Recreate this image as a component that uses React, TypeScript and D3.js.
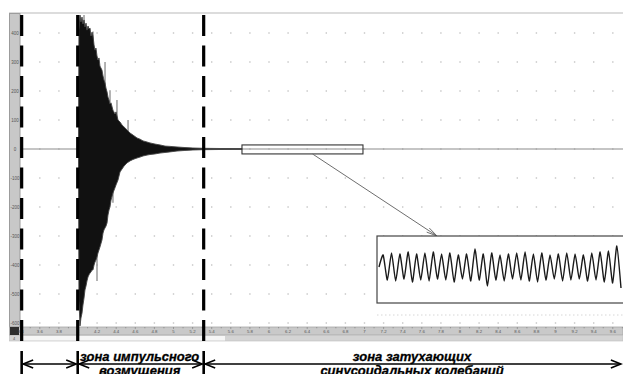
import React from 'react';
import * as d3 from 'd3';

const yTicks = [400, 300, 200, 100, 0, -100, -200, -300, -400, -500, -600];
const xTicks = [3.4, 3.6, 3.8, 4, 4.2, 4.4, 4.6, 4.8, 5, 5.2, 5.4, 5.6, 5.8, 6, 6.2, 6.4, 6.6, 6.8, 7, 7.2, 7.4, 7.6, 7.8, 8, 8.2, 8.4, 8.6, 8.8, 9, 9.2, 9.4, 9.6];
const markerTimes = [3.41, 3.997, 5.316];
const endTime = 9.7;

const zoneText = [
  [] as string[],
  ['зона импульсного', 'возмущения'],
  ['зона затухающих', 'синусоидальных колебаний'],
];

const sigTime = [4.005, 4.010, 4.021, 4.031, 4.042, 4.052, 4.063, 4.073, 4.084, 4.094, 4.105, 4.115, 4.126, 4.136, 4.147, 4.157, 4.168, 4.178, 4.188, 4.199, 4.209, 4.220, 4.230, 4.251, 4.262, 4.272, 4.283, 4.293, 4.304, 4.314, 4.325, 4.335, 4.346, 4.366, 4.387, 4.398, 4.419, 4.440, 4.461, 4.482, 4.513, 4.545, 4.576, 4.618, 4.649, 4.681, 4.723, 4.754, 4.806, 4.859, 4.911, 4.963, 5.037, 5.120, 5.204, 5.309, 5.487, 5.717];
const sigUpper = [0, 410, 462, 438, 455, 431, 445, 421, 434, 410, 424, 414, 417, 390, 403, 390, 359, 341, 348, 321, 307, 314, 286, 272, 252, 238, 228, 210, 197, 179, 169, 155, 159, 134, 121, 128, 100, 93, 83, 76, 66, 55, 48, 38, 34, 28, 24, 21, 17, 14, 10, 9, 7, 5, 3.4, 2.4, 1.7, 1.4];
const sigLower = [0, -521, -610, -583, -566, -538, -514, -486, -472, -455, -441, -434, -428, -424, -417, -417, -400, -390, -383, -372, -359, -348, -338, -314, -290, -279, -272, -266, -255, -228, -210, -200, -176, -152, -134, -124, -107, -79, -69, -59, -48, -41, -36, -31, -28, -24, -21, -19, -17, -14, -12, -10, -7, -5, -3.4, -2.4, -1.7, -1.4];

const spikeTime = [4.063, 4.157, 4.283, 4.335, 4.408, 4.524, 4.199, 4.366];
const spikeValue = [462, 405, 300, 203, 169, 100, -455, -185];

// zoomed window of the damped-sine zone
const windowTime = [5.717, 6.984];
const windowValue = [-17, 14];
const insetPeaks = [12, 14, 13, 15, 13, 14, 15, 13, 14, 12, 13, 18, 13, 14, 12, 13, 14, 15, 13, 14, 12, 13, 14, 13, 12, 14, 15, 16, 21];
const insetTroughs = [-13, -14, -12, -15, -13, -14, -12, -13, -15, -12, -14, -13, -19, -13, -14, -12, -13, -14, -15, -13, -12, -14, -13, -12, -14, -13, -15, -16, -21];

const W = 623;
const H = 374;
const FONT = '"Liberation Sans", Arial, sans-serif';

export default function App() {
  const x = d3.scaleLinear().domain([4, 9]).range([78, 555.5]);
  const y = d3.scaleLinear().domain([0, 400]).range([149, 33]);
  const plotTop = 14;
  const plotBottom = 327;
  const plotLeft = 20;

  const sigData = sigTime.map((t, i) => ({ t, hi: sigUpper[i], lo: sigLower[i] }));
  const area = d3.area<{ t: number; hi: number; lo: number }>()
    .x(d => x(d.t))
    .y0(d => y(d.lo))
    .y1(d => y(d.hi));

  const insetX0 = 377, insetY0 = 236, insetY1 = 303;
  const insetVals: number[] = [0];
  insetPeaks.forEach((p, i) => { insetVals.push(p); insetVals.push(insetTroughs[i]); });
  const ix = d3.scaleLinear().domain([0, insetVals.length - 1]).range([379, 621]);
  const iy = d3.scaleLinear().domain([-16, 16]).range([283, 251]);
  const insetPath = d3.line<number>()
    .x((_, i) => ix(i))
    .y(d => iy(d))
    .curve(d3.curveCardinal.tension(0.45))(insetVals);

  const boxX0 = x(windowTime[0]), boxX1 = x(windowTime[1]);
  const boxY0 = y(windowValue[1]), boxY1 = y(windowValue[0]);
  const arrowFrom: [number, number] = [(boxX0 + boxX1) / 2 + 10, boxY1];
  const arrowTo: [number, number] = [437, insetY0];
  const ang = Math.atan2(arrowTo[1] - arrowFrom[1], arrowTo[0] - arrowFrom[0]);
  const ah = 11, aw = 0.22;
  const head1 = [arrowTo[0] - ah * Math.cos(ang - aw), arrowTo[1] - ah * Math.sin(ang - aw)];
  const head2 = [arrowTo[0] - ah * Math.cos(ang + aw), arrowTo[1] - ah * Math.sin(ang + aw)];

  const bounds = [...markerTimes, endTime];
  const arrowY = 364;

  const gridDots: JSX.Element[] = [];
  yTicks.forEach(v => {
    xTicks.forEach(t => {
      gridDots.push(<rect key={`g${v}_${t}`} x={x(t) - 0.7} y={y(v) - 0.7} width={1.4} height={1.4} fill="#c4c4c4" />);
    });
  });

  const minorTicks: number[] = [];
  xTicks.forEach(t => { minorTicks.push(t); minorTicks.push(t + 0.1); });

  return (
    <svg width={W} height={H} style={{ position: 'absolute', left: 0, top: 0, background: '#fff' }}>
      <defs>
        <clipPath id="plot"><rect x={plotLeft} y={plotTop} width={W - plotLeft} height={plotBottom - plotTop} /></clipPath>
      </defs>
      <rect x={0} y={0} width={W} height={H} fill="#fff" />
      <line x1={9} x2={W} y1={13} y2={13} stroke="#dcdcdc" strokeWidth={2} />
      {gridDots}
      <line x1={insetX0} x2={W} y1={315} y2={315} stroke="#d6d6d6" strokeWidth={1} strokeDasharray="1.5 2.5" />
      <line x1={plotLeft} x2={W} y1={y(0)} y2={y(0)} stroke="#8c8c8c" strokeWidth={1.2} />
      <g clipPath="url(#plot)">
        {spikeTime.map((t, i) => (
          <line key={`s${i}`} x1={x(t)} x2={x(t)} y1={y(0)} y2={y(spikeValue[i])} stroke="#8a8a8a" strokeWidth={1.3} />
        ))}
        <path d={area(sigData) || ''} fill="#111" stroke="#444" strokeWidth={0.9} />
      </g>
      <rect x={boxX0} y={boxY0} width={boxX1 - boxX0} height={boxY1 - boxY0} fill="none" stroke="#333" strokeWidth={1.1} />
      <line x1={arrowFrom[0]} y1={arrowFrom[1]} x2={arrowTo[0]} y2={arrowTo[1]} stroke="#6e6e6e" strokeWidth={1} />
      <path d={`M${head1[0]},${head1[1]}L${arrowTo[0]},${arrowTo[1]}L${head2[0]},${head2[1]}`} fill="none" stroke="#6e6e6e" strokeWidth={1} />
      <rect x={insetX0} y={insetY0} width={W - insetX0 + 5} height={insetY1 - insetY0} fill="#fff" stroke="#444" strokeWidth={1.2} />
      <path d={insetPath || ''} fill="none" stroke="#1a1a1a" strokeWidth={1.4} />
      <rect x={9.5} y={13.5} width={10.5} height={plotBottom - 13.5} fill="#c8c8c8" stroke="#9c9c9c" strokeWidth={1} />
      {yTicks.map(v => (
        <text key={`yt${v}`} x={15} y={y(v) + 1.5} fontSize={4.5} fontFamily={FONT} fill="#555" textAnchor="middle">{v}</text>
      ))}
      <rect x={9.5} y={plotBottom} width={W - 9.5} height={8} fill="#c9c9c9" stroke="#a8a8a8" strokeWidth={0.8} />
      <rect x={10} y={plotBottom} width={9} height={8} fill="#2e2e2e" />
      {minorTicks.map((t, i) => (
        <line key={`mt${i}`} x1={x(t)} x2={x(t)} y1={plotBottom} y2={plotBottom + (i % 2 === 0 ? 2 : 1.3)} stroke="#777" strokeWidth={0.6} />
      ))}
      {xTicks.map(t => (
        <text key={`xt${t}`} x={x(t)} y={plotBottom + 5.8} fontSize={4.3} fontFamily={FONT} fill="#555" textAnchor="middle">{String(t)}</text>
      ))}
      <rect x={9.5} y={335.5} width={W - 9.5} height={5.5} fill="#d4d4d4" stroke="#bdbdbd" strokeWidth={0.6} />
      <rect x={20} y={336} width={205} height={4.5} fill="#f6f6f6" />
      <text x={13} y={340} fontSize={4} fontFamily={FONT} fill="#555">4</text>
      {markerTimes.map((t, i) => (
        <g key={`m${i}`}>
          <line x1={x(t)} x2={x(t)} y1={15} y2={343} stroke="#000" strokeWidth={3.2} strokeDasharray="21 9.5" />
          <line x1={x(t)} x2={x(t)} y1={351} y2={H} stroke="#000" strokeWidth={2.6} />
        </g>
      ))}
      {bounds.slice(0, -1).map((t0, i) => {
        const a = x(t0) + 1.5;
        const b = Math.min(x(bounds[i + 1]) - 1.5, W - 2);
        return (
          <g key={`z${i}`}>
            <line x1={a} x2={b} y1={arrowY} y2={arrowY} stroke="#000" strokeWidth={1.6} />
            <path d={`M${a + 10},${arrowY - 4}L${a},${arrowY}L${a + 10},${arrowY + 4}`} fill="none" stroke="#000" strokeWidth={1.6} />
            <path d={`M${b - 10},${arrowY - 4}L${b},${arrowY}L${b - 10},${arrowY + 4}`} fill="none" stroke="#000" strokeWidth={1.6} />
          </g>
        );
      })}
      {zoneText.map((lines, i) => {
        const cx = (x(bounds[i]) + x(bounds[i + 1])) / 2 - 1;
        return lines.map((s, j) => (
          <text key={`zt${i}_${j}`} x={cx} y={j === 0 ? 361 : 375} fontSize={13} fontFamily={FONT} fontWeight="bold" fontStyle="italic" textAnchor="middle" fill="#000" stroke="#000" strokeWidth={0.3}>{s}</text>
        ));
      })}
    </svg>
  );
}
